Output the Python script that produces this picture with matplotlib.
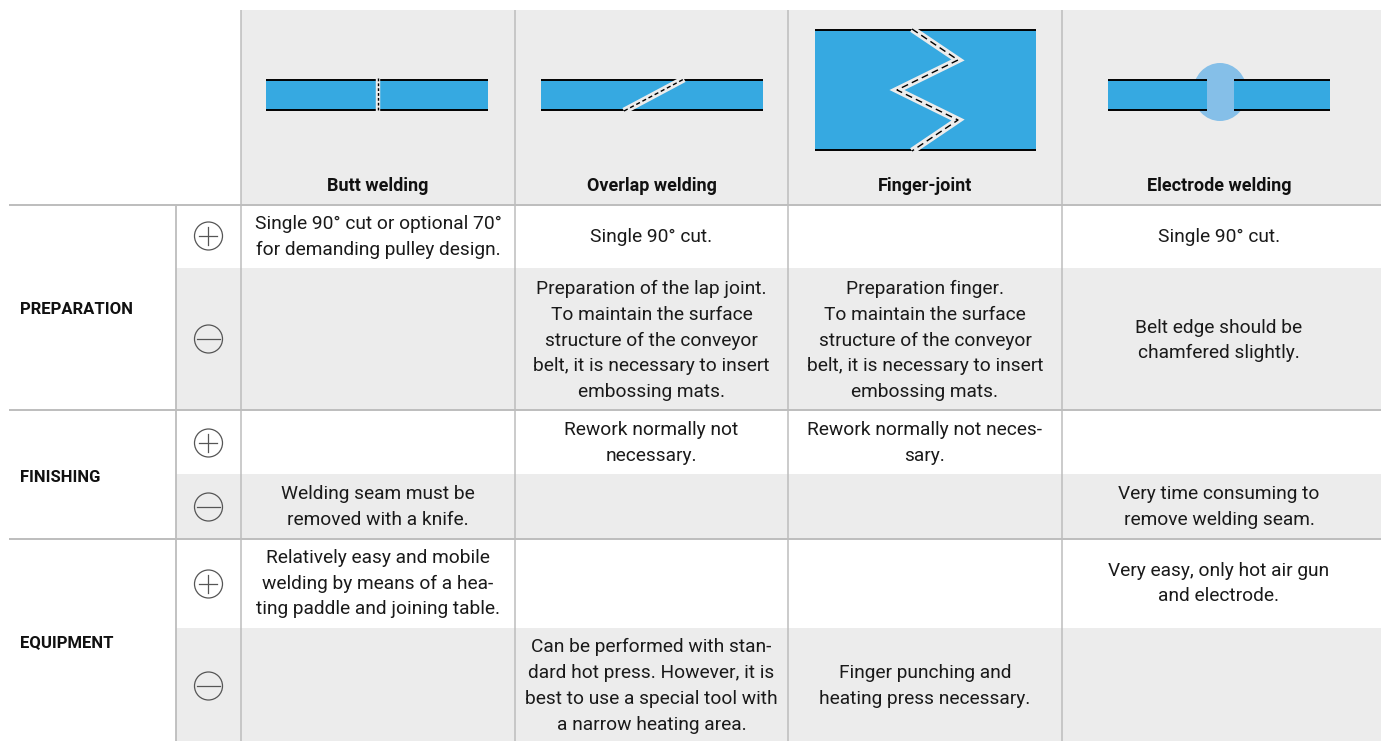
import matplotlib
matplotlib.use('Agg')
import matplotlib.pyplot as plt
from matplotlib.patches import Rectangle, Ellipse, Circle

plt.rcParams['font.family'] = ['Roboto', 'DejaVu Sans']

methods = ['Butt welding', 'Overlap welding', 'Finger-joint', 'Electrode welding']
sections = ['PREPARATION', 'FINISHING', 'EQUIPMENT']
signs = ['+', '-', '+', '-', '+', '-']

# one list per method, one entry per row (plus/minus for each section)
butt = ['Single 90° cut or optional 70°\nfor demanding pulley design.', '', '',
        'Welding seam must be\nremoved with a knife.',
        'Relatively easy and mobile\nwelding by means of a hea-\nting paddle and joining table.', '']
overlap = ['Single 90° cut.',
           'Preparation of the lap joint.\nTo maintain the surface\nstructure of the conveyor\nbelt, it is necessary to insert\nembossing mats.',
           'Rework normally not\nnecessary.', '', '',
           'Can be performed with stan-\ndard hot press. However, it is\nbest to use a special tool with\na narrow heating area.']
finger = ['',
          'Preparation finger.\nTo maintain the surface\nstructure of the conveyor\nbelt, it is necessary to insert\nembossing mats.',
          'Rework normally not neces-\nsary.', '', '',
          'Finger punching and\nheating press necessary.']
electrode = ['Single 90° cut.', 'Belt edge should be\nchamfered slightly.', '',
             'Very time consuming to\nremove welding seam.',
             'Very easy, only hot air gun\nand electrode.', '']
columns = [butt, overlap, finger, electrode]

# layout in image pixels
W, H = 1381, 741
col_x = [241, 515, 788, 1062, 1381]
col_mid = [378, 651.5, 925, 1219]
sign_x = 176
row_y = [205, 268, 410, 474, 539, 628, 741]
text_y = [237, 340.5, 443, 507, 583.5, 686]
section_y = [309.5, 477, 642.5]
sign_y = [236, 339, 443, 507, 584, 686]
section_rows = [205, 410, 539]

GREY = '#ececec'
LINE = '#bdbdbd'
BLUE = '#36a9e1'
LIGHT = '#85bfe8'
INK = '#1a1a1a'

fig = plt.figure(figsize=(W / 100, H / 100), dpi=100)
ax = fig.add_axes([0, 0, 1, 1])
ax.set_xlim(0, W)
ax.set_ylim(H, 0)
ax.axis('off')

# grey bands
ax.add_patch(Rectangle((col_x[0], 10), W - col_x[0], 195, fc=GREY, ec='none', zorder=0))
for i in (1, 3, 5):
    ax.add_patch(Rectangle((sign_x, row_y[i]), W - sign_x, row_y[i + 1] - row_y[i], fc=GREY, ec='none', zorder=0))

# grid lines
for x in col_x[:4]:
    ax.plot([x, x], [10, H], color=LINE, lw=1.1, zorder=1, solid_capstyle='butt')
ax.plot([sign_x, sign_x], [205, H], color=LINE, lw=1.3, zorder=1, solid_capstyle='butt')
for y in section_rows:
    ax.plot([9, W], [y, y], color=LINE, lw=1.4, zorder=1, solid_capstyle='butt')

# header labels
for xc, name in zip(col_mid, methods):
    ax.text(xc, 186, name, ha='center', va='center', fontsize=13, fontweight='bold', color='#111111')

for y, name in zip(section_y, sections):
    ax.text(20, y, name, ha='left', va='center', fontsize=12, fontweight='bold', color='#111111')

# plus / minus circles
for y, s in zip(sign_y, signs):
    ax.add_patch(Circle((208.5, y), 14, fc='none', ec='#555555', lw=0.9, zorder=3))
    if s == '+':
        ax.plot([199.5, 217.5], [y, y], color='#555555', lw=0.9, zorder=3)
        ax.plot([208.5, 208.5], [y - 9, y + 9], color='#555555', lw=0.9, zorder=3)
    else:
        ax.plot([197, 220], [y, y], color='#555555', lw=0.9, zorder=3)

# cell text
for xc, col in zip(col_mid, columns):
    for r, txt in enumerate(col):
        if txt:
            ax.text(xc, text_y[r], txt, ha='center', va='center', fontsize=13.8, linespacing=1.56, color=INK)


def belt(x0, x1, top=80, bottom=110):
    ax.add_patch(Rectangle((x0, top), x1 - x0, bottom - top, fc=BLUE, ec='none', zorder=2))
    ax.plot([x0, x1], [top, top], color='black', lw=1.4, zorder=3, solid_capstyle='butt')
    ax.plot([x0, x1], [bottom, bottom], color='black', lw=1.4, zorder=3, solid_capstyle='butt')


def seam(xs, ys, width=5, dashes=(4, 3)):
    ax.plot(xs, ys, color=GREY, lw=width, zorder=4, solid_joinstyle='miter', solid_capstyle='butt')
    ax.plot(xs, ys, color='black', lw=1.0, zorder=5, dashes=dashes)


# butt joint
belt(266, 488)
seam([378.5, 378.5], [78, 112], width=3.2, dashes=(2, 1.5))
# overlap joint
belt(541, 763)
seam([624, 684], [111, 79], width=4.8, dashes=(3, 2))
# finger joint
belt(815, 1036, top=30, bottom=150)
seam([912, 958, 897, 958, 912], [29, 60, 90, 120, 151], width=4.8, dashes=(5, 3))
# electrode
ax.add_patch(Ellipse((1220, 92), 54, 58, fc=LIGHT, ec='none', zorder=2))
belt(1108, 1207)
belt(1234, 1330)

fig.savefig('out.png', dpi=100)
